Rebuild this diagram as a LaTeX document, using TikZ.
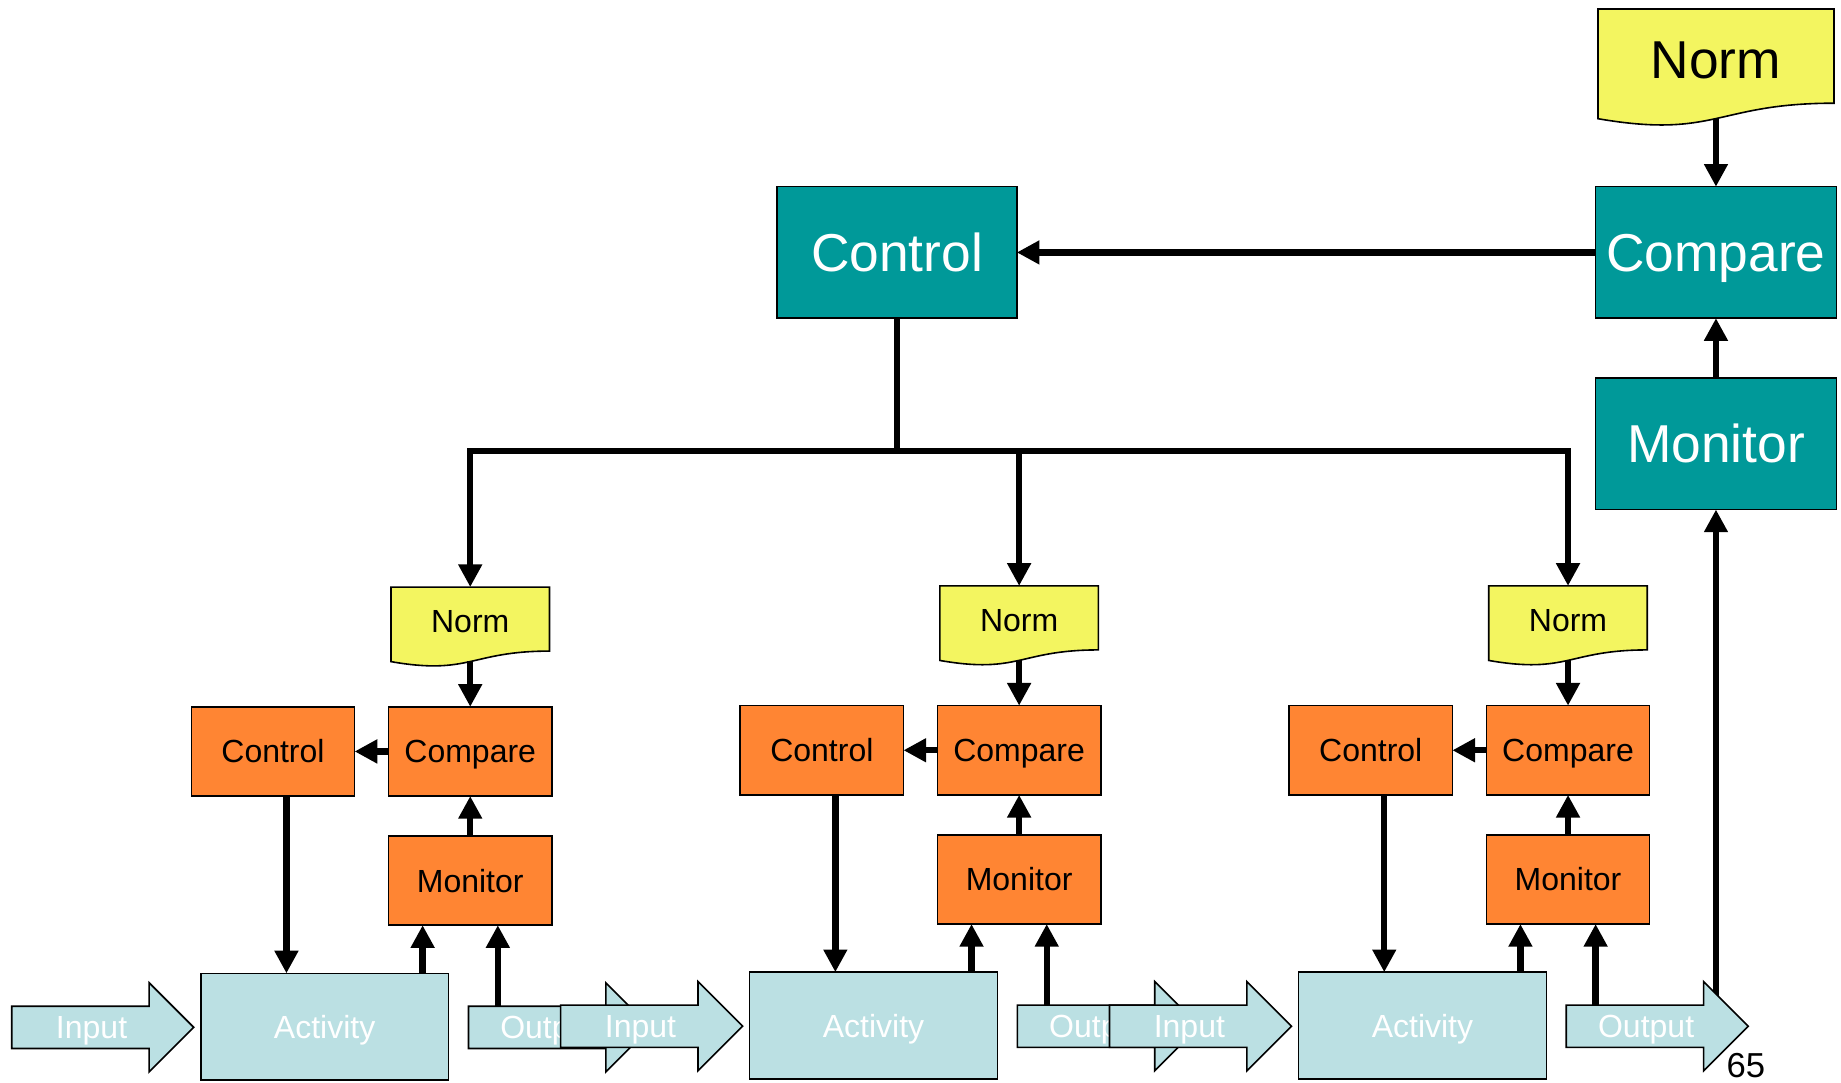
\documentclass[tikz,border=0pt]{standalone}
\usepackage{fontspec}
\setmainfont{Liberation Sans}
\usetikzlibrary{arrows.meta}

\definecolor{topteal}{RGB}{0,153,153}
\definecolor{loworange}{RGB}{255,133,51}
\definecolor{normyellow}{RGB}{243,245,96}
\definecolor{flowblue}{RGB}{187,224,227}

\tikzset{
  sized/.style 2 args={minimum width=#1*0.8806pt, minimum height=#2*0.8806pt},
  smalltype/.style={font=\fontsize{24}{29}\selectfont, text height=17.2pt, text depth=0pt},
  largetype/.style={font=\fontsize{40}{48}\selectfont, text height=28.7pt, text depth=0pt},
  panel/.style={draw=black, line width=1.2pt, inner sep=0pt, outer sep=0pt},
  tealbox/.style={panel, fill=topteal, text=white, largetype},
  orangebox/.style={panel, fill=loworange, smalltype},
  activitybox/.style={panel, fill=flowblue, text=white, smalltype},
  normsheet/.style={draw=black, line width=1.2pt, fill=normyellow},
  normtext/.style={inner sep=0pt, outer sep=0pt, smalltype},
  bignormtext/.style={inner sep=0pt, outer sep=0pt, largetype},
  flowshape/.style={draw=black, line width=1.2pt, fill=flowblue, line join=miter},
  flowtext/.style={inner sep=0pt, outer sep=0pt, text=white, smalltype},
  conn/.style={line width=4.8pt, -{Triangle[length=17pt,width=17pt]}},
  pagenum/.style={inner sep=0pt, font=\fontsize{26}{31}\selectfont},
}

% document sheet with a wavy lower edge: left x, top y, width, height
\newcommand\normdoc[4]{%
  \pgfmathsetmacro\docxr{#1+#3}%
  \pgfmathsetmacro\docxm{#1+0.5*#3}%
  \pgfmathsetmacro\docyr{#2+0.802*#4}%
  \pgfmathsetmacro\docyc{#2+1.1075*#4}%
  \pgfmathsetmacro\docyl{#2+0.934*#4}%
  \path[normsheet] (#1,#2) -- (\docxr,#2) -- (\docxr,\docyr)
    .. controls (\docxm,\docyr) and (\docxm,\docyc) .. (#1,\docyl) -- cycle;}

% block arrow pointing right: left x, axis y
\newcommand\flowarrow[2]{%
  \pgfmathsetmacro\fax{#1}%
  \pgfmathsetmacro\fay{#2}%
  \path[flowshape] (\fax,\fay-18) -- (\fax+117,\fay-18) -- (\fax+117,\fay-38)
    -- (\fax+155,\fay) -- (\fax+117,\fay+38) -- (\fax+117,\fay+18)
    -- (\fax,\fay+18) -- cycle;}

\begin{document}
\begin{tikzpicture}[x=0.8806pt, y=-0.8806pt]
\useasboundingbox (0,0) rectangle (1568,922);

% upper control loop
\normdoc{1361}{7.7}{201}{100}
\node[bignormtext, sized={201}{86}] (nrmT) at (1461.5,50.7) {Norm};
\node[tealbox, sized={205}{112}] (cmpT) at (1461.5,215) {Compare};
\node[tealbox, sized={205}{112}] (monT) at (1461.5,378) {Monitor};
\node[tealbox, sized={204}{112}] (ctlT) at (764,215) {Control};
\draw[conn, shorten <=6.4pt] (nrmT.south) -- (cmpT.north);
\draw[conn] (cmpT.west) -- (ctlT.east);
\draw[conn] (monT.north) -- (cmpT.south);

% feedback from the last output
\coordinate (feed) at (1461.5,862);
\draw[conn] (feed) -- (monT.south);

% three local control loops
\foreach \g/\dx/\dy in {1/0/1, 2/467.5/0, 3/935/0}{
  \normdoc{333+\dx}{499+\dy}{135}{68}
  \node[normtext, sized={135}{58.5}] (nrm\g) at ({400.5+\dx},{528.25+\dy}) {Norm};
  \node[orangebox, sized={139}{76}] (ctl\g) at ({232.5+\dx},{639+\dy}) {Control};
  \node[orangebox, sized={139}{76}] (cmp\g) at ({400.5+\dx},{639+\dy}) {Compare};
  \node[orangebox, sized={139}{76}] (mon\g) at ({400.5+\dx},{749+\dy}) {Monitor};
  \node[activitybox, sized={211}{91}] (act\g) at ({276.5+\dx},{873.5+\dy}) {Activity};

  \flowarrow{10+\dx}{874+\dy}
  \node[flowtext, sized={136}{36}] (in\g) at ({78+\dx},{874+\dy}) {Input};
  \flowarrow{399+\dx}{874+\dy}
  \node[flowtext, sized={136}{36}] (out\g) at ({467+\dx},{874+\dy}) {Output};

  \draw[conn, shorten <=4.3pt] (nrm\g.south) -- (cmp\g.north);
  \draw[conn] (cmp\g.west) -- (ctl\g.east);
  \draw[conn] (mon\g.north) -- (cmp\g.south);
  \coordinate (cd\g) at ([xshift=10.1pt]ctl\g.south);
  \draw[conn] (cd\g) -- (cd\g |- act\g.north);
  \coordinate (au\g) at ([xshift=-35.7pt]mon\g.south);
  \draw[conn] (au\g |- act\g.north) -- (au\g);
  \coordinate (ou\g) at ([xshift=20.7pt]mon\g.south);
  \draw[conn] (ou\g |- out\g.north) -- (ou\g);
}

% distribution of norms from the upper control
\coordinate (bus) at (0,384);
\draw[conn] (ctlT.south) -- (ctlT.south |- bus) -| (nrm1.north);
\draw[conn] (ctlT.south) -- (ctlT.south |- bus) -| (nrm2.north);
\draw[conn] (ctlT.south) -- (ctlT.south |- bus) -| (nrm3.north);

\node[pagenum, anchor=base] (page) at (1487,917.5) {65};
\end{tikzpicture}
\end{document}
